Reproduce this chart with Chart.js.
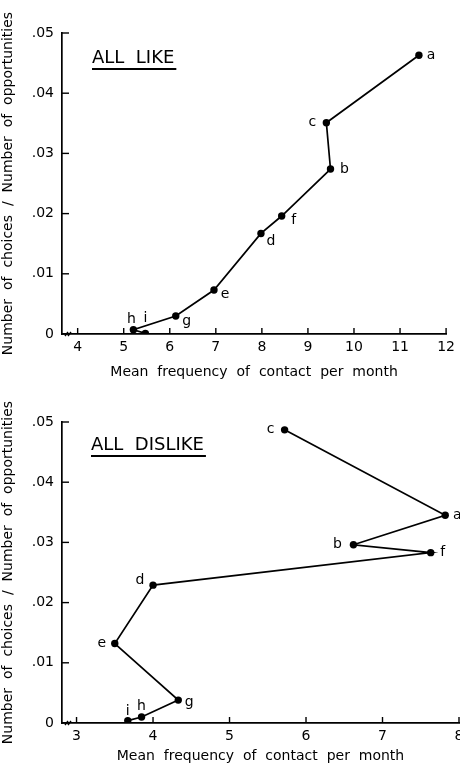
<!DOCTYPE html>
<html>
<head>
<meta charset="utf-8">
<script src="https://cdn.jsdelivr.net/npm/chart.js@4/dist/chart.umd.min.js"></script>
<style>
  html, body { margin: 0; padding: 0; background: #fff; overflow: hidden; }
  #box1 { position: absolute; left: 0; top: 0; width: 460px; height: 384px; }
  #box2 { position: absolute; left: 0; top: 384px; width: 470px; height: 384px; }
</style>
</head>
<body>
<div id="box1"><canvas id="likeChart"></canvas></div>
<div id="box2"><canvas id="dislikeChart"></canvas></div>
<script>
// values (x = contacts per month, y = choices / opportunities)
const likeLabels = ['a', 'c', 'b', 'f', 'd', 'e', 'g', 'h', 'i'];
const likeFreq = [11.41, 9.40, 9.49, 8.43, 7.98, 6.96, 6.13, 5.21, 5.47];
const likeRate = [0.0463, 0.0351, 0.0274, 0.0196, 0.0167, 0.0073, 0.0030, 0.0007, 0.0001];

const dislikeLabels = ['c', 'a', 'b', 'f', 'd', 'e', 'g', 'h', 'i'];
const dislikeFreq = [5.72, 7.82, 6.62, 7.63, 4.00, 3.50, 4.33, 3.85, 3.67];
const dislikeRate = [0.0487, 0.0345, 0.0296, 0.0283, 0.0229, 0.0132, 0.0038, 0.0010, 0.0004];

const rateTicks = [0, 0.01, 0.02, 0.03, 0.04, 0.05];
const likeFreqTicks = [4, 5, 6, 7, 8, 9, 10, 11, 12];
const dislikeFreqTicks = [3, 4, 5, 6, 7, 8];

const FONT = '"DejaVu Sans", sans-serif';
const INK = '#000';

// where each letter sits next to its point [dx, dy]
const likeLabelPos = [[12, 0], [-14, 0], [14, 0], [12, 4], [10, 8], [11, 4], [11, 5], [-2, -10], [0, -15]];
const dislikeLabelPos = [[-14, 0], [12, 0], [-16, 0], [12, 0], [-13, -5], [-13, 0], [11, 2], [0, -11], [0, -9]];

function fmtRate(v) {
  if (v === 0) return '0';
  return v.toFixed(2).replace(/^0/, '');
}

// inward tick marks, point letters and panel title
const decor = {
  id: 'decor',
  afterDraw(chart, args, opts) {
    const ctx = chart.ctx;
    const xs = chart.scales.x, ys = chart.scales.y;
    const area = chart.chartArea;
    ctx.save();
    ctx.strokeStyle = INK;
    ctx.lineWidth = 1.4;
    xs.ticks.forEach(t => {
      const px = xs.getPixelForValue(t.value);
      ctx.beginPath();
      ctx.moveTo(px, area.bottom);
      ctx.lineTo(px, area.bottom - 6);
      ctx.stroke();
    });
    ys.ticks.forEach(t => {
      const py = ys.getPixelForValue(t.value);
      ctx.beginPath();
      ctx.moveTo(area.left, py);
      ctx.lineTo(area.left + 7, py);
      ctx.stroke();
    });
    // little break mark on the x axis near the origin
    ctx.beginPath();
    ctx.moveTo(area.left + 3, area.bottom + 2);
    ctx.lineTo(area.left + 6, area.bottom - 2);
    ctx.moveTo(area.left + 6, area.bottom + 2);
    ctx.lineTo(area.left + 9, area.bottom - 2);
    ctx.stroke();

    // letters next to points
    const meta = chart.getDatasetMeta(0);
    ctx.fillStyle = INK;
    ctx.font = '14px ' + FONT;
    ctx.textAlign = 'center';
    ctx.textBaseline = 'middle';
    meta.data.forEach((pt, i) => {
      const off = opts.pos[i];
      ctx.fillText(opts.names[i], pt.x + off[0], pt.y + off[1]);
    });

    // underlined panel heading
    ctx.font = '18px ' + FONT;
    ctx.textAlign = 'left';
    ctx.fillText(opts.heading, opts.hx, opts.hy);
    const w = ctx.measureText(opts.heading).width;
    ctx.lineWidth = 2;
    ctx.beginPath();
    ctx.moveTo(opts.hx, opts.hy + 11);
    ctx.lineTo(opts.hx + w + 2, opts.hy + 11);
    ctx.stroke();
    ctx.restore();
  }
};

function makeChart(id, freq, rate, names, pos, freqTicks, xMin, xMax, heading, hx, hy, pad, xHeight) {
  const points = freq.map((f, i) => ({ x: f, y: rate[i] }));
  return new Chart(document.getElementById(id), {
    type: 'scatter',
    data: {
      datasets: [{
        data: points,
        showLine: true,
        borderColor: INK,
        borderWidth: 1.7,
        backgroundColor: INK,
        pointRadius: 3.7,
        pointBorderWidth: 0,
        tension: 0
      }]
    },
    options: {
      responsive: true,
      maintainAspectRatio: false,
      animation: false,
      layout: { padding: pad },
      plugins: {
        legend: { display: false },
        tooltip: { enabled: false },
        decor: { names: names, pos: pos, heading: heading, hx: hx, hy: hy }
      },
      scales: {
        x: {
          type: 'linear',
          min: xMin,
          max: xMax,
          afterBuildTicks: s => { s.ticks = freqTicks.map(v => ({ value: v })); },
          afterFit: s => { s.height = xHeight; },
          grid: { display: true, drawOnChartArea: false, drawTicks: false },
          border: { display: true, color: INK, width: 1.7 },
          ticks: { color: INK, font: { family: FONT, size: 14 }, padding: 5, maxRotation: 0 },
          title: {
            display: true,
            text: 'Mean  frequency  of  contact  per  month',
            color: INK,
            font: { family: FONT, size: 14 },
            padding: { top: 0, bottom: 3 }
          }
        },
        y: {
          type: 'linear',
          min: 0,
          max: 0.05,
          afterBuildTicks: s => { s.ticks = rateTicks.map(v => ({ value: v })); },
          afterFit: s => { s.width = 62; },
          grid: { display: true, drawOnChartArea: false, drawTicks: false },
          border: { display: true, color: INK, width: 1.7 },
          ticks: { color: INK, font: { family: FONT, size: 14 }, padding: 8, callback: v => fmtRate(v) },
          title: {
            display: true,
            text: 'Number  of  choices  /  Number  of  opportunities',
            color: INK,
            font: { family: FONT, size: 14 },
            padding: { top: 0, bottom: 5 }
          }
        }
      }
    },
    plugins: [decor]
  });
}

makeChart('likeChart', likeFreq, likeRate, likeLabels, likeLabelPos, likeFreqTicks,
  3.66, 12, 'ALL  LIKE', 92, 58, { top: 33, right: 13, bottom: 0, left: 0 }, 50);
makeChart('dislikeChart', dislikeFreq, dislikeRate, dislikeLabels, dislikeLabelPos, dislikeFreqTicks,
  2.81, 8, 'ALL  DISLIKE', 91, 61, { top: 38, right: 11, bottom: 0, left: 0 }, 45);
</script>
</body>
</html>
